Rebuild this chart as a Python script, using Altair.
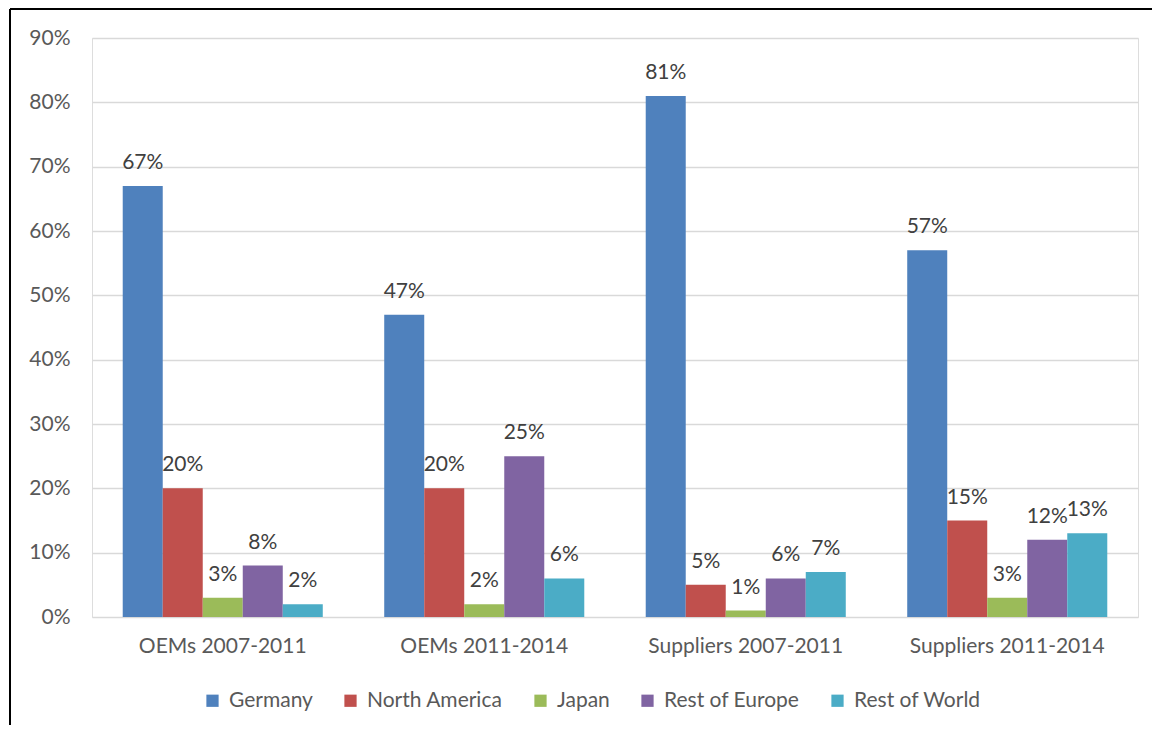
import altair as alt
import pandas as pd

groups = ["OEMs 2007-2011", "OEMs 2011-2014", "Suppliers 2007-2011", "Suppliers 2011-2014"]
series = ["Germany", "North America", "Japan", "Rest of Europe", "Rest of World"]
colors = ["#4F81BD", "#C0504D", "#9BBB59", "#8064A2", "#4BACC6"]
germany = [0.67, 0.47, 0.81, 0.57]
north_america = [0.20, 0.20, 0.05, 0.15]
japan = [0.03, 0.02, 0.01, 0.03]
rest_of_europe = [0.08, 0.25, 0.06, 0.12]
rest_of_world = [0.02, 0.06, 0.07, 0.13]
y_ticks = [0, 0.1, 0.2, 0.3, 0.4, 0.5, 0.6, 0.7, 0.8, 0.9]

vals = [germany, north_america, japan, rest_of_europe, rest_of_world]
rows = []
for s, v in zip(series, vals):
    for g, x in zip(groups, v):
        rows.append({"group": g, "series": s, "value": x})
df = pd.DataFrame(rows)

FONT = "Lato"
FS = 21
W, H = 1046, 579

x_enc = alt.X("group:N", sort=groups, title=None,
              scale=alt.Scale(paddingInner=0.235, paddingOuter=0.1175),
              axis=alt.Axis(labelAngle=0, domain=False, ticks=False, labelPadding=18,
                            labelLimit=0,
                            labelFontSize=FS, labelColor="#595959", labelFont=FONT))
xo = alt.XOffset("series:N", sort=series, scale=alt.Scale(paddingInner=0, paddingOuter=0))

bars = alt.Chart(df).mark_bar().encode(
    x=x_enc,
    xOffset=xo,
    y=alt.Y("value:Q", title=None,
            scale=alt.Scale(domain=[0, 0.9], nice=False),
            axis=alt.Axis(values=y_ticks, format=".0%", domain=False, ticks=False,
                          labelPadding=22, labelFontSize=FS, labelColor="#595959",
                          labelFont=FONT, gridColor="#D9D9D9", gridWidth=1.5)),
    color=alt.Color("series:N", sort=series,
                    scale=alt.Scale(domain=series, range=colors),
                    legend=alt.Legend(title=None, orient="none", direction="horizontal",
                                      legendX=110, legendY=652, labelLimit=0,
                                      symbolType="square", symbolSize=150,
                                      symbolStrokeWidth=0, symbolOpacity=1,
                                      labelFontSize=FS, labelColor="#595959",
                                      labelFont=FONT, columnPadding=27, labelOffset=6)),
)

labels = alt.Chart(df).mark_text(baseline="alphabetic", dy=-17, fontSize=FS,
                                 color="#404040", font=FONT).encode(
    x=alt.X("group:N", sort=groups),
    xOffset=xo,
    y="value:Q",
    text=alt.Text("value:Q", format=".0%"),
)

left_border = alt.Chart(df).mark_rule(color="black", strokeWidth=2).encode(
    x=alt.value(-82), y=alt.value(-29), y2=alt.value(700))
top_border = alt.Chart(df).mark_rule(color="black", strokeWidth=2).encode(
    x=alt.value(-82), x2=alt.value(1070), y=alt.value(-29))

chart = alt.layer(bars, labels, left_border, top_border).properties(
    width=W, height=H,
    autosize=alt.AutoSizeParams(type="none"),
    padding={"left": 84, "top": 30, "right": 14, "bottom": 108},
).configure_view(stroke=None).configure(background="white")

chart.save("out.html", embed_options={"renderer": "svg", "actions": False})
